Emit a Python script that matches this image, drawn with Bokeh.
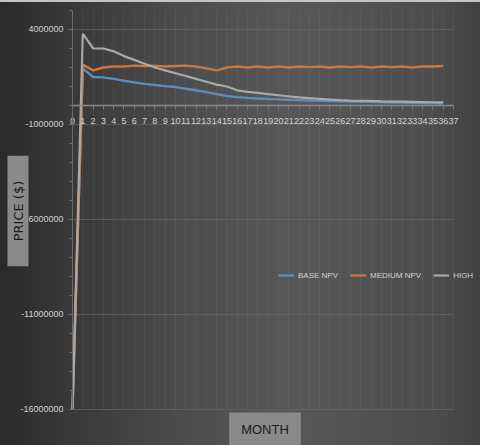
from bokeh.plotting import figure
from bokeh.models import Legend, LegendItem, FixedTicker, Label, Range1d
from bokeh.embed import file_html
from bokeh.resources import INLINE
import math

months = list(range(37))
x_ticks = list(range(38))
base_npv = [-16.0, 1.95, 1.5, 1.48, 1.4, 1.3, 1.22, 1.14, 1.08, 1.02, 0.97, 0.88, 0.8, 0.7,
            0.6, 0.5, 0.44, 0.4, 0.37, 0.34, 0.32, 0.3, 0.28, 0.26, 0.25, 0.23, 0.22, 0.21,
            0.2, 0.19, 0.17, 0.16, 0.15, 0.14, 0.13, 0.12, 0.11]
medium_npv = [-16.0, 2.15, 1.85, 2.0, 2.05, 2.05, 2.1, 2.08, 2.1, 2.05, 2.08, 2.1, 2.05, 1.95,
              1.85, 2.0, 2.05, 2.0, 2.05, 2.0, 2.05, 2.0, 2.05, 2.02, 2.05, 2.0, 2.05, 2.02,
              2.05, 2.0, 2.05, 2.02, 2.05, 2.0, 2.05, 2.05, 2.08]
high_npv = [-16.0, 3.78, 3.0, 3.0, 2.85, 2.6, 2.4, 2.2, 2.0, 1.85, 1.7, 1.55, 1.4, 1.25,
            1.1, 1.0, 0.8, 0.72, 0.66, 0.6, 0.54, 0.48, 0.43, 0.39, 0.35, 0.31, 0.28, 0.26,
            0.25, 0.24, 0.22, 0.21, 0.2, 0.19, 0.18, 0.17, 0.16]
y_ticks = [-16000000, -11000000, -6000000, -1000000, 4000000]
series_names = ["BASE NPV", "MEDIUM NPV", "HIGH"]

scale = 1e6
base_v = [v * scale for v in base_npv]
med_v = [v * scale for v in medium_npv]
high_v = [v * scale for v in high_npv]

FONT = "Liberation Sans"
TXT = "#d2d2d2"

# frame covers the whole canvas; axes sit at fixed data locations
p = figure(width=480, height=445, output_backend="svg", toolbar_location=None,
           x_range=Range1d(-6.992, 39.622), y_range=Range1d(-17.895e6, 5.526e6),
           min_border_left=0, min_border_right=0, min_border_top=0, min_border_bottom=0)
p.background_fill_color = None
p.border_fill_color = None
p.outline_line_color = None
p.styles = {"background": "linear-gradient(180deg, #c4c4c4 0px, #c4c4c4 2px, rgba(0,0,0,0) 2px), "
                          "linear-gradient(90deg, #2a2a2a 0%, #363636 12%, #4e4e4e 40%, #575757 62%, #4d4d4d 90%, #414141 100%)"}

# y axis
ya = p.yaxis[0]
ya.fixed_location = 0
ya.bounds = (-16e6, 5e6)
ya.ticker = FixedTicker(ticks=y_ticks, minor_ticks=[i * 1e6 for i in range(-16, 6)])
ya.major_label_overrides = {t: str(t) for t in y_ticks}
ya.major_label_text_font = FONT
ya.major_label_text_font_size = "9px"
ya.major_label_text_color = TXT
ya.axis_line_color = "#6a6a6a"
ya.major_tick_line_color = "#6a6a6a"
ya.minor_tick_line_color = "#6a6a6a"
ya.major_tick_out = 4
ya.major_tick_in = 0
ya.minor_tick_out = 3
ya.minor_tick_in = 0
ya.major_label_standoff = 5

# x axis at zero
xa = p.xaxis[0]
xa.fixed_location = 0
xa.bounds = (0, 37)
xa.ticker = FixedTicker(ticks=x_ticks)
xa.major_label_text_font = FONT
xa.major_label_text_font_size = "9px"
xa.major_label_text_color = TXT
xa.axis_line_color = "#8a8a8a"
xa.axis_line_width = 1.5
xa.major_tick_line_color = "#777777"
xa.major_tick_out = 4
xa.major_tick_in = 0
xa.minor_tick_line_color = None
xa.major_label_standoff = 9

yg = p.ygrid[0]
xg = p.xgrid[0]
yg.ticker = FixedTicker(ticks=y_ticks)
yg.grid_line_color = "#6a6a6a"
yg.grid_line_alpha = 0.6
xg.ticker = FixedTicker(ticks=x_ticks)
xg.grid_line_color = "#ffffff"
xg.grid_line_alpha = 0.05
if "cross_bounds" in yg.properties():
    yg.cross_bounds = (0, 37)
    xg.cross_bounds = (-16e6, 5e6)
else:
    xg.visible = False

r_base = p.line(months, base_v, line_color="#6189bd", line_width=2.4)
r_med = p.line(months, med_v, line_color="#c8783c", line_width=2.4)
r_high = p.line(months, high_v, line_color="#a9a9a9", line_width=2.2)

legend = Legend(items=[LegendItem(label=series_names[0], renderers=[r_base]),
                       LegendItem(label=series_names[1], renderers=[r_med]),
                       LegendItem(label=series_names[2], renderers=[r_high])],
                orientation="horizontal", location=(278, 164),
                background_fill_alpha=0, border_line_color=None,
                padding=0, margin=0, spacing=12, glyph_width=16, glyph_height=12,
                label_height=12, label_standoff=4,
                label_text_font=FONT, label_text_font_size="8px", label_text_color=TXT)
p.add_layout(legend)

month_lbl = Label(x=264.5, y=16.5, x_units="screen", y_units="screen", text="MONTH",
                  text_font=FONT, text_font_size="13px", text_color="#1c1c1c",
                  text_align="center", text_baseline="middle",
                  background_fill_color="#8a8a8a", padding=(12, 9))
p.add_layout(month_lbl)

price_lbl = Label(x=17.5, y=234.5, x_units="screen", y_units="screen", text="PRICE ($)",
                  text_font="DejaVu Sans", text_font_size="13px", text_color="#1c1c1c",
                  text_align="center", text_baseline="middle", angle=math.pi / 2,
                  background_fill_color="#8a8a8a", padding=(25, 3))
p.add_layout(price_lbl)

open("out.html", "w").write(file_html(p, INLINE))
